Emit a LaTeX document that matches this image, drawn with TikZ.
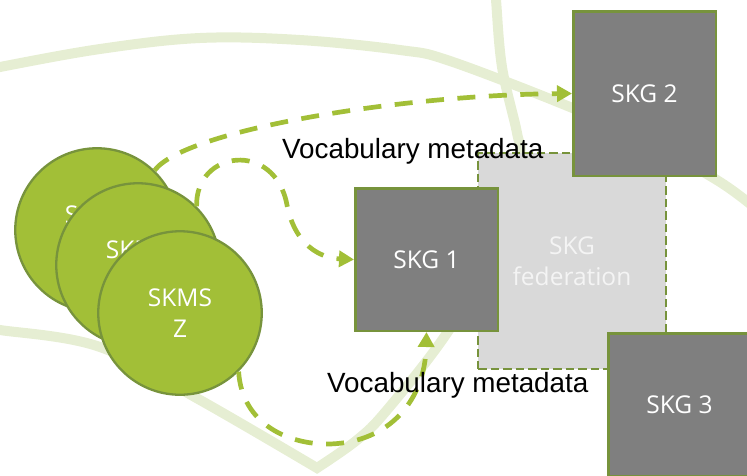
\documentclass[tikz,border=0pt]{standalone}
\usepackage{fontspec}
\setmainfont{Open Sans}
\newfontfamily\arialf{Liberation Sans}
\usetikzlibrary{arrows.meta}
\definecolor{lightgr}{HTML}{E6EED3}
\definecolor{leaf}{HTML}{A2BF37}
\definecolor{olive}{HTML}{77933C}
\definecolor{boxgray}{HTML}{7F7F7F}
\definecolor{fedgray}{HTML}{D9D9D9}
\definecolor{fedtext}{HTML}{F4F4F4}
\tikzset{
  bgline/.style={draw=lightgr,line width=10pt},
  skgbox/.style={rectangle,draw=olive,line width=2.5pt,fill=boxgray,text=white,
    inner sep=0pt,minimum width=142.5pt,font=\fontsize{24.5}{31.5}\selectfont},
  fedbox/.style={rectangle,draw=olive,line width=2pt,dash pattern=on 8.5pt off 4pt,
    fill=fedgray,text=fedtext,align=center,inner sep=0pt,
    minimum width=188pt,minimum height=216pt,font=\fontsize{24.5}{31.5}\selectfont},
  skms/.style={circle,draw=olive,line width=2.3pt,fill=leaf,text=white,
    minimum size=163.5pt,inner sep=0pt,align=center,font=\fontsize{24.5}{31.5}\selectfont},
  flow/.style={draw=leaf,line width=4.7pt,dash pattern=on 18pt off 13.5pt,
    -{Triangle[length=15pt,width=16pt]}},
  vocab/.style={font=\arialf\fontsize{27.8}{30}\selectfont,inner sep=0pt,anchor=base west,text=black}
}
\begin{document}
\begin{tikzpicture}[x=1pt,y=-1pt]
\useasboundingbox (0,0) rectangle (747,475);
\clip (0,0) rectangle (747,475);
% background decorative curves
\draw[bgline] plot[smooth,tension=0.6] coordinates {(-10,70) (0,67) (100,49) (200,38) (300,40) (400,50) (450,61) (570,107) (650,143) (720,182) (760,212)};
\draw[bgline,line join=miter] plot[smooth,tension=0.6] coordinates {(-10,329) (0,330) (100,347) (200,400) (317,468)}
  -- plot[smooth,tension=0.6] coordinates {(317,468) (357,440) (387,410) (447,333) (495,250) (519,160) (517,133) (502,67) (496,0) (495,-10)};
% federation and graphs
\node[fedbox] (fed) at (572,261) {SKG\\federation};
\node[skgbox,minimum height=164.5pt] (skg2) at (644.5,93.5) {SKG 2};
\node[skgbox,minimum height=142.5pt] (skg1) at (426.5,259.5) {SKG 1};
\node[skgbox,minimum height=142.5pt] (skg3) at (679.5,404.5) {SKG 3};
% management systems
\node[skms] (c1) at (97,230) {SKMS\\X};
\node[skms] (c2) at (138,265) {SKMS\\Y};
\node[skms] (c3) at (180,313) {SKMS\\Z};
% flows
\draw[flow] (c1.46) .. controls (185,130) and (400,95) .. (skg2.west);
\draw[flow] (c2.45) .. controls (195,150) and (275,140) .. (287,205)
  .. controls (295,245) and (320,258) .. (skg1.west);
\draw[flow] (c3.-45) .. controls (242,425) and (290,445) .. (330,444)
  .. controls (390,442) and (425,400) .. (skg1.south);
% labels
\node[vocab] (v1) at (282,158) {Vocabulary metadata};
\node[vocab] (v2) at (327,392) {Vocabulary metadata};
\end{tikzpicture}
\end{document}
